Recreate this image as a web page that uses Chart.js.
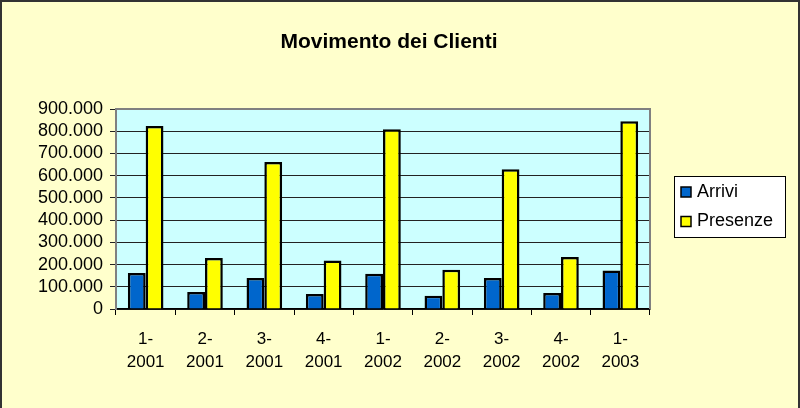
<!DOCTYPE html>
<html>
<head>
<meta charset="utf-8">
<script src="https://cdn.jsdelivr.net/npm/chart.js@4/dist/chart.umd.min.js"></script>
<style>
  html, body { margin: 0; padding: 0; background: #FFFFCC; }
  #wrap { width: 800px; height: 408px; position: relative; }
  canvas { display: block; }
</style>
</head>
<body>
<div id="wrap"><canvas id="c" width="800" height="408"></canvas></div>
<script>
const chartTitle = 'Movimento dei Clienti';
const categories = [['1-','2001'],['2-','2001'],['3-','2001'],['4-','2001'],['1-','2002'],['2-','2002'],['3-','2002'],['4-','2002'],['1-','2003']];
const seriesNames = ['Arrivi', 'Presenze'];
const arrivi   = [162000, 76000, 139000, 67000, 159000, 60000, 139000, 72000, 173000];
const presenze = [824000, 229000, 661000, 218000, 809000, 177000, 629000, 234000, 845000];
const yMin = 0, yMax = 900000, yStep = 100000;

const FONT = '"Liberation Sans", Arial, sans-serif';

function fmt(v) {
  return String(v).replace(/\B(?=(\d{3})+(?!\d))/g, '.');
}

const frame = {
  id: 'frame',
  beforeDraw(chart) {
    const ctx = chart.ctx;
    const a = chart.chartArea;
    ctx.save();
    ctx.fillStyle = '#FFFFCC';
    ctx.fillRect(0, 0, chart.width, chart.height);
    ctx.strokeStyle = '#333333';
    ctx.lineWidth = 2;
    ctx.beginPath();
    ctx.moveTo(1, chart.height);
    ctx.lineTo(1, 1);
    ctx.lineTo(chart.width - 1, 1);
    ctx.lineTo(chart.width - 1, chart.height);
    ctx.stroke();
    ctx.fillStyle = '#CCFFFF';
    ctx.fillRect(a.left, a.top, a.right - a.left, a.bottom - a.top);
    ctx.restore();
  },
  afterDraw(chart) {
    const ctx = chart.ctx;
    const a = chart.chartArea;
    ctx.save();
    ctx.strokeStyle = '#808080';
    ctx.lineWidth = 2;
    ctx.beginPath();
    ctx.moveTo(a.left, a.top);
    ctx.lineTo(a.right, a.top);
    ctx.lineTo(a.right, a.bottom);
    ctx.stroke();
    const lx = 674, ly = 176, lw = 111, lh = 61;
    ctx.fillStyle = '#FFFFFF';
    ctx.fillRect(lx, ly, lw, lh);
    ctx.strokeStyle = '#000000';
    ctx.lineWidth = 1;
    ctx.strokeRect(lx + 0.5, ly + 0.5, lw, lh);
    ctx.font = '18px ' + FONT;
    ctx.textBaseline = 'middle';
    ctx.textAlign = 'left';
    chart.data.datasets.forEach((ds, i) => {
      const cy = 192 + i * 29.5;
      ctx.fillStyle = ds.backgroundColor;
      ctx.fillRect(681, cy - 5, 10, 10);
      ctx.strokeStyle = '#000';
      ctx.lineWidth = 1.5;
      ctx.strokeRect(681, cy - 5, 10, 10);
      ctx.fillStyle = '#000';
      ctx.fillText(ds.label, 697, cy);
    });
    ctx.restore();
  }
};

new Chart(document.getElementById('c'), {
  type: 'bar',
  data: {
    labels: categories,
    datasets: [
      { label: seriesNames[0], data: arrivi, backgroundColor: '#0066CC', borderColor: '#000000', borderWidth: 2.5, borderSkipped: 'bottom' },
      { label: seriesNames[1], data: presenze, backgroundColor: '#FFFF00', borderColor: '#000000', borderWidth: 2.5, borderSkipped: 'bottom' }
    ]
  },
  options: {
    responsive: false,
    animation: false,
    devicePixelRatio: 1,
    layout: { padding: { left: 4, right: 26, top: 0, bottom: 0 } },
    datasets: { bar: { categoryPercentage: 0.6, barPercentage: 1.0 } },
    plugins: {
      legend: { display: false },
      tooltip: { enabled: false },
      title: {
        display: true,
        text: chartTitle,
        color: '#000000',
        font: { family: FONT, size: 21, weight: 'bold', lineHeight: 1.2 },
        padding: { top: 30, bottom: 53.8 }
      }
    },
    scales: {
      x: {
        grid: { display: true, drawOnChartArea: false, drawTicks: true, tickLength: 6, color: '#000000', offset: true },
        border: { display: true, color: '#000000', width: 1.5 },
        ticks: { color: '#000000', padding: 13, maxRotation: 0, autoSkip: false, font: { family: FONT, size: 17, lineHeight: 1.35 } },
        afterFit(s) { s.height = 99; }
      },
      y: {
        min: yMin, max: yMax,
        grid: { color: '#222222', lineWidth: 1, drawTicks: true, tickLength: 6 },
        border: { display: true, color: '#808080', width: 2 },
        ticks: { stepSize: yStep, autoSkip: false, color: '#000000', padding: 7, font: { family: FONT, size: 18 }, callback: (v) => fmt(v) },
        afterFit(s) { s.width = 112; }
      },
      y2: {
        position: 'right',
        display: true,
        grid: { display: false, drawTicks: false },
        border: { display: false },
        ticks: { display: false },
        afterFit(s) { s.width = 124; }
      }
    }
  },
  plugins: [frame]
});
</script>
</body>
</html>
